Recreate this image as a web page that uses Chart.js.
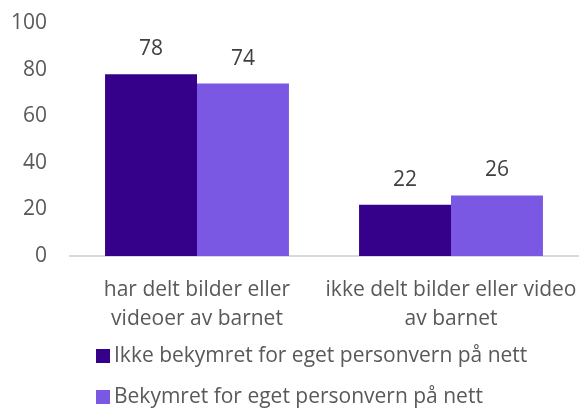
<!DOCTYPE html>
<html>
<head>
<meta charset="utf-8">
<script src="https://cdn.jsdelivr.net/npm/chart.js@4"></script>
<style>
  html, body { margin: 0; padding: 0; background: #fff; }
  #wrap { width: 580px; height: 410px; }
</style>
</head>
<body>
<div id="wrap"><canvas id="chart" width="580" height="410"></canvas></div>
<script>
const categories = [
  ['har delt bilder eller', 'videoer av barnet'],
  ['ikke delt bilder eller video', 'av barnet'],
];
const seriesNames = ['Ikke bekymret for eget personvern på nett', 'Bekymret for eget personvern på nett'];
const notWorried = [78, 22];
const worried = [74, 26];
const seriesColors = ['#35008a', '#7b58e3'];

const FONT = "'Open Sans', sans-serif";

const valueLabels = {
  id: 'valueLabels',
  afterDatasetsDraw: (chart) => {
    const { ctx } = chart;
    ctx.save();
    ctx.font = `21px ${FONT}`;
    ctx.fillStyle = '#404040';
    ctx.textAlign = 'center';
    ctx.textBaseline = 'middle';
    chart.data.datasets.forEach((ds, i) => {
      chart.getDatasetMeta(i).data.forEach((bar, j) => {
        ctx.fillText(ds.data[j], bar.x, bar.y - 25);
      });
    });
    ctx.restore();
  },
};

const bottomLegend = {
  id: 'bottomLegend',
  afterDraw: (chart) => {
    const { ctx } = chart;
    ctx.save();
    ctx.font = `21px ${FONT}`;
    ctx.textBaseline = 'middle';
    ctx.textAlign = 'left';
    const rows = [356, 397];
    chart.data.datasets.forEach((ds, i) => {
      const y = rows[i];
      ctx.fillStyle = ds.backgroundColor;
      ctx.fillRect(96, y - 7, 14, 14);
      ctx.fillStyle = '#595959';
      ctx.fillText(ds.label, 114, y);
    });
    ctx.restore();
  },
};

new Chart(document.getElementById('chart'), {
  type: 'bar',
  data: {
    labels: categories,
    datasets: [
      { label: seriesNames[0], data: notWorried, backgroundColor: seriesColors[0] },
      { label: seriesNames[1], data: worried, backgroundColor: seriesColors[1] },
    ],
  },
  plugins: [valueLabels, bottomLegend],
  options: {
    responsive: false,
    animation: false,
    layout: { padding: { top: 23, right: 2, bottom: 74, left: 0 } },
    datasets: {
      bar: { categoryPercentage: 0.724, barPercentage: 1, borderWidth: 0 },
    },
    plugins: {
      legend: { display: false },
      tooltip: { enabled: false },
    },
    scales: {
      x: {
        grid: { display: false },
        border: { display: true, color: '#d9d9d9', width: 2 },
        ticks: {
          color: '#595959',
          font: { family: FONT, size: 21, lineHeight: 1.4 },
          padding: 11,
          maxRotation: 0,
          autoSkip: false,
        },
        afterFit: (scale) => {
          scale.height = 80;
          scale.paddingLeft = 0;
          scale.paddingRight = 0;
        },
      },
      y: {
        min: 0,
        max: 100,
        grid: { display: false, drawTicks: false },
        border: { display: false },
        ticks: {
          stepSize: 20,
          color: '#595959',
          font: { family: FONT, size: 21 },
          padding: 23,
        },
        afterFit: (scale) => {
          scale.width = 70;
          scale.paddingTop = 0;
          scale.paddingBottom = 0;
        },
      },
    },
  },
});
</script>
</body>
</html>
